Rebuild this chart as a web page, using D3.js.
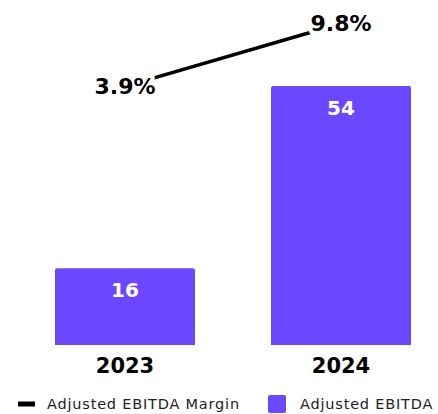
<!DOCTYPE html>
<html>
<head>
<meta charset="utf-8">
<script src="https://cdn.jsdelivr.net/npm/d3@7"></script>
<style>
  body { margin: 0; background: #fff; }
  text { font-family: "DejaVu Sans", Verdana, sans-serif; }
</style>
</head>
<body>
<div id="chart"></div>
<script>
// Data
var years = ["2023", "2024"];
var ebitda = [16, 54];          // Adjusted EBITDA (bars)
var margin = [3.9, 9.8];        // Adjusted EBITDA Margin, % (line)
var marginLabels = ["3.9%", "9.8%"];
var legendNames = ["Adjusted EBITDA Margin", "Adjusted EBITDA"];

var W = 438, H = 414;
var purple = "#6b48ff";

var svg = d3.select("#chart").append("svg")
  .attr("width", W)
  .attr("height", H);

// scales
var x = d3.scaleBand()
  .domain(years)
  .range([17, 449])
  .padding(0);

var y = d3.scaleLinear()
  .domain([0, 54])
  .range([345, 86]);

var y2 = d3.scaleLinear()   // margin line sits on its own axis
  .domain([0, 12])
  .range([128, 0]);

var bw = 140;
function cx(d) { return x(d) + x.bandwidth() / 2; }

// bars
var bars = svg.selectAll(".bar")
  .data(years)
  .enter()
  .append("g")
  .attr("class", "bar");

bars.append("path")
  .attr("d", function(d, i) {
    var x0 = cx(d) - bw / 2, x1 = cx(d) + bw / 2, t = y(ebitda[i]), b = y(0), r = 2;
    return "M" + x0 + "," + b + "V" + (t + r) + "Q" + x0 + "," + t + " " + (x0 + r) + "," + t +
      "H" + (x1 - r) + "Q" + x1 + "," + t + " " + x1 + "," + (t + r) + "V" + b + "Z";
  })
  .attr("fill", purple);

bars.append("text")
  .attr("x", function(d) { return cx(d); })
  .attr("y", function(d, i) { return y(ebitda[i]) + 29; })
  .attr("text-anchor", "middle")
  .style("font-size", "20px")
  .style("font-weight", "bold")
  .attr("fill", "#fff")
  .text(function(d, i) { return ebitda[i]; });

// x axis labels
svg.selectAll(".year")
  .data(years)
  .enter()
  .append("text")
  .attr("class", "year")
  .attr("x", function(d) { return cx(d); })
  .attr("y", 373)
  .attr("text-anchor", "middle")
  .style("font-size", "21px")
  .style("font-weight", "bold")
  .attr("fill", "#000")
  .text(function(d) { return d; });

// margin line
var line = d3.line()
  .x(function(d, i) { return cx(years[i]); })
  .y(function(d) { return y2(d); });

svg.append("path")
  .datum(margin)
  .attr("d", line)
  .attr("fill", "none")
  .attr("stroke", "#000")
  .attr("stroke-width", 3.5);

// labels with white halo over line ends
svg.selectAll(".mlabel")
  .data(margin)
  .enter()
  .append("text")
  .attr("class", "mlabel")
  .attr("x", function(d, i) { return cx(years[i]); })
  .attr("y", function(d) { return y2(d) + 8; })
  .attr("text-anchor", "middle")
  .style("font-size", "22px")
  .style("font-weight", "bold")
  .attr("fill", "#000")
  .attr("stroke", "#fff")
  .attr("stroke-width", 8)
  .attr("stroke-linejoin", "round")
  .attr("paint-order", "stroke")
  .text(function(d, i) { return marginLabels[i]; });

// legend
var leg = svg.append("g").attr("transform", "translate(0,404)");
leg.append("rect")
  .attr("x", 18).attr("y", -2.5)
  .attr("width", 17).attr("height", 5)
  .attr("fill", "#000");
leg.append("text")
  .attr("x", 47).attr("y", 5)
  .style("font-size", "14.5px")
  .style("letter-spacing", "0.8px")
  .attr("fill", "#222")
  .text(legendNames[0]);
leg.append("rect")
  .attr("x", 268).attr("y", -9)
  .attr("width", 18).attr("height", 18)
  .attr("rx", 2)
  .attr("fill", purple);
leg.append("text")
  .attr("x", 300).attr("y", 5)
  .style("font-size", "14.5px")
  .style("letter-spacing", "0.8px")
  .attr("fill", "#222")
  .text(legendNames[1]);
</script>
</body>
</html>
